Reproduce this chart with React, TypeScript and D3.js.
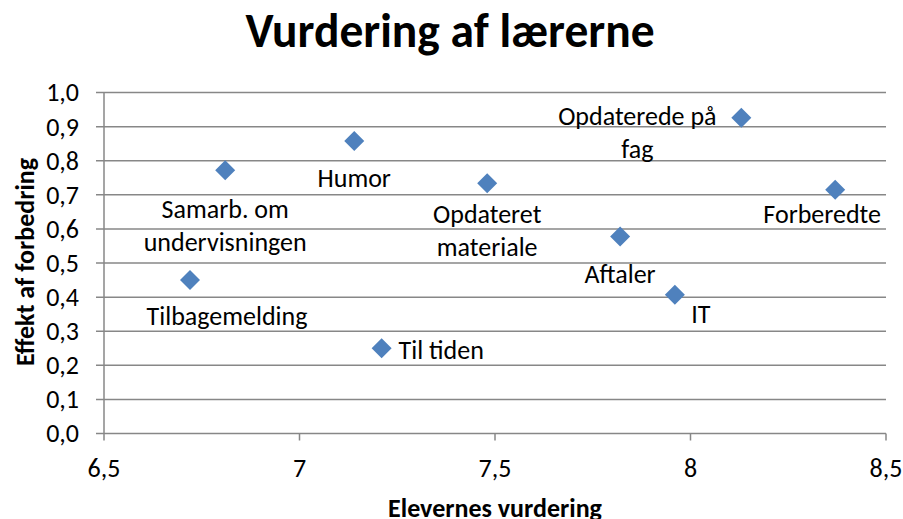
import React from 'react';
import * as d3 from 'd3';

// Elevernes vurdering (x) og effekt af forbedring (y) for hvert emne
const emner = [
  'Humor',
  'Samarb. om\nundervisningen',
  'Tilbagemelding',
  'Til tiden',
  'Opdateret\nmateriale',
  'Opdaterede på\nfag',
  'Forberedte',
  'Aftaler',
  'IT',
];
const elevVurdering = [7.14, 6.81, 6.72, 7.21, 7.48, 8.13, 8.37, 7.82, 7.96];
const effekt = [0.858, 0.772, 0.45, 0.25, 0.734, 0.926, 0.715, 0.578, 0.407];

const xTicks = [6.5, 7, 7.5, 8, 8.5];
const yTicks = [0, 0.1, 0.2, 0.3, 0.4, 0.5, 0.6, 0.7, 0.8, 0.9, 1.0];

// label placement relative to the marker (dx, dy of first baseline, anchor)
const labelPlacement: [number, number, string][] = [
  [0, 46, 'middle'],
  [0, 48, 'middle'],
  [37, 45, 'middle'],
  [17, 11, 'start'],
  [0, 40, 'middle'],
  [-104, 7, 'middle'],
  [-13, 33, 'middle'],
  [0, 47, 'middle'],
  [26, 28, 'middle'],
];

const W = 903;
const H = 519;
const margin = { top: 92.6, right: 17, bottom: 85.5, left: 104 };
const font = 'Carlito, Lato, sans-serif';
const grid = '#878787';
const lineH = 33;
const fs = 26;

const fmt = (v: number) => String(v).replace('.', ',');
const fmtY = (v: number) => v.toFixed(1).replace('.', ',');

export default function App() {
  const x = d3.scaleLinear().domain([6.5, 8.5]).range([margin.left, W - margin.right]);
  const y = d3.scaleLinear().domain([0, 1]).range([H - margin.bottom, margin.top]);
  const diamond = d3.symbol(d3.symbolSquare, 200)();

  const x0 = x(6.5);
  const y0 = y(0);

  return (
    <svg
      width={W}
      height={H}
      style={{ position: 'absolute', left: 0, top: 0, background: '#fff' }}
      fontFamily={font}
    >
      <text x={450} y={46.5} textAnchor="middle" fontSize={47.5} fontWeight="bold" fill="#000">
        Vurdering af lærerne
      </text>

      {/* horizontal gridlines + y ticks */}
      {yTicks.map((t) => (
        <g key={t}>
          <line x1={x0 - 8} x2={x(8.5)} y1={y(t)} y2={y(t)} stroke={grid} strokeWidth={1.5} />
          <text x={79} y={y(t)} dy="0.34em" textAnchor="end" fontSize={fs} fill="#000">
            {fmtY(t)}
          </text>
        </g>
      ))}

      {/* y axis */}
      <line x1={x0} x2={x0} y1={y(1)} y2={y0} stroke={grid} strokeWidth={1.5} />

      {/* x ticks */}
      {xTicks.map((t) => (
        <g key={t}>
          <line x1={x(t)} x2={x(t)} y1={y0} y2={y0 + 7} stroke={grid} strokeWidth={1.5} />
          <text x={x(t)} y={477} textAnchor="middle" fontSize={fs} fill="#000">
            {fmt(t)}
          </text>
        </g>
      ))}

      {/* markers */}
      {elevVurdering.map((v, i) => (
        <path
          key={emner[i]}
          d={diamond ?? ''}
          transform={`translate(${x(v)},${y(effekt[i])}) rotate(45)`}
          fill="#4F81BD"
        />
      ))}

      {/* data labels */}
      {elevVurdering.map((v, i) => {
        const [dx, dy, anchor] = labelPlacement[i];
        const lines = emner[i].split('\n');
        return (
          <text
            key={'l' + i}
            x={x(v) + dx}
            y={y(effekt[i]) + dy}
            textAnchor={anchor}
            fontSize={fs}
            fill="#000"
          >
            {lines.map((ln, j) => (
              <tspan key={j} x={x(v) + dx} dy={j === 0 ? 0 : lineH}>
                {ln}
              </tspan>
            ))}
          </text>
        );
      })}

      {/* axis titles */}
      <text x={495} y={517} textAnchor="middle" fontSize={fs} fontWeight="bold" fill="#000">
        Elevernes vurdering
      </text>
      <text
        transform={`translate(33.5,262) rotate(-90)`}
        textAnchor="middle"
        fontSize={fs}
        fontWeight="bold"
        fill="#000"
      >
        Effekt af forbedring
      </text>
    </svg>
  );
}
